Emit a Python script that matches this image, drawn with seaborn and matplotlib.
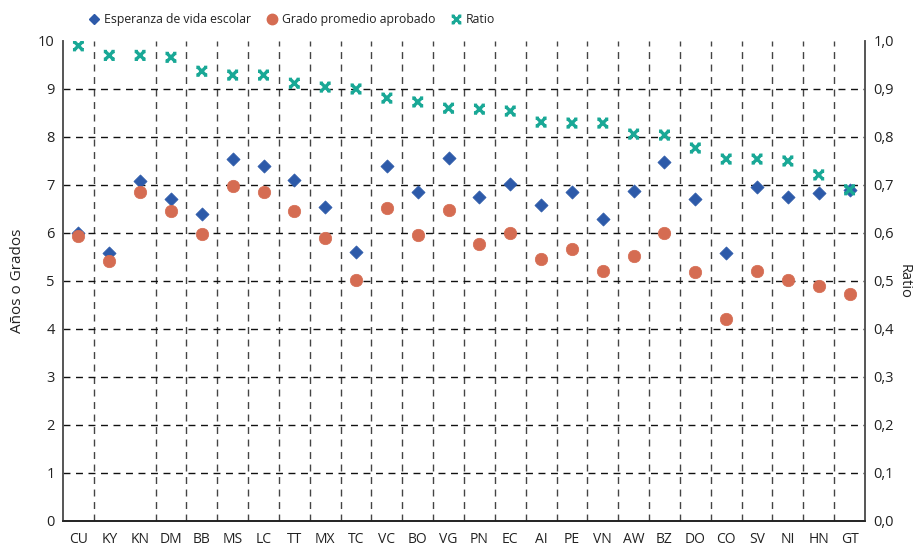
import numpy as np
import pandas as pd
import matplotlib
matplotlib.use("Agg")
import matplotlib.pyplot as plt
from matplotlib.path import Path
from matplotlib.markers import MarkerStyle
from matplotlib.lines import Line2D
from matplotlib.ticker import FuncFormatter
import seaborn as sns

paises = ["CU", "KY", "KN", "DM", "BB", "MS", "LC", "TT", "MX", "TC", "VC", "BO", "VG",
          "PN", "EC", "AI", "PE", "VN", "AW", "BZ", "DO", "CO", "SV", "NI", "HN", "GT"]
esperanza = [6.00, 5.58, 7.08, 6.70, 6.40, 7.54, 7.40, 7.10, 6.54, 5.60, 7.40, 6.85, 7.56,
             6.75, 7.02, 6.58, 6.85, 6.29, 6.88, 7.48, 6.71, 5.58, 6.96, 6.75, 6.84, 6.90]
grado = [5.94, 5.42, 6.85, 6.46, 5.98, 6.98, 6.85, 6.46, 5.90, 5.02, 6.52, 5.96, 6.48,
         5.77, 6.00, 5.46, 5.67, 5.21, 5.52, 6.00, 5.19, 4.21, 5.21, 5.02, 4.90, 4.73]
ratio = [0.99, 0.97, 0.97, 0.966, 0.937, 0.929, 0.929, 0.912, 0.904, 0.90, 0.881, 0.873, 0.86,
         0.858, 0.854, 0.831, 0.829, 0.829, 0.806, 0.804, 0.777, 0.754, 0.754, 0.75, 0.721, 0.69]

df = pd.DataFrame({"pais": paises, "esperanza": esperanza, "grado": grado, "ratio": ratio})
df["pos"] = np.arange(len(df))

C_BLUE = "#2D5AA9"
C_ORANGE = "#D56C52"
C_TEAL = "#19A896"

sns.set_style("white")
plt.rcParams["font.family"] = ["Open Sans", "DejaVu Sans"]

fig = plt.figure(figsize=(9.2, 5.46), dpi=100)
ax = fig.add_axes([63 / 920, 1 - 521 / 546, (865 - 63) / 920, (521 - 41) / 546])
ax2 = ax.twinx()

# custom "X" marker with small serifs at arm tips (unfilled)
xverts = [(-1, -1), (1, 1), (-1, 1), (1, -1)]
for tx, ty in [(-1, 1), (1, 1), (-1, -1), (1, -1)]:
    xverts += [(tx - 0.4, ty), (tx + 0.4, ty)]
xcodes = [Path.MOVETO, Path.LINETO] * 6
xmark = MarkerStyle(Path(xverts, xcodes), fillstyle="none")

sns.scatterplot(data=df, x="pos", y="esperanza", ax=ax, marker="D", s=45,
                color=C_BLUE, edgecolor=C_BLUE, linewidth=0.5, zorder=3, legend=False)
sns.scatterplot(data=df, x="pos", y="grado", ax=ax, marker="o", s=80,
                color=C_ORANGE, edgecolor=C_ORANGE, linewidth=0.5, zorder=3, legend=False)
sns.scatterplot(data=df, x="pos", y="ratio", ax=ax2, marker=xmark, s=62,
                color=C_TEAL, linewidth=2.4, zorder=3, legend=False)

n = len(paises)
ax.set_xlim(-0.5, n - 0.5)
ax.set_ylim(0, 10)
ax2.set_ylim(0, 1)

ax.set_xticks(df["pos"])
ax.set_xticklabels(paises, fontsize=10, color="#222222")
bounds = [b for b in (np.arange(n - 1) + 0.5) if abs(b - 1.5) > 1e-9]
ax.set_xticks(bounds, minor=True)
ax.set_yticks(range(0, 11))
ax.tick_params(axis="y", labelsize=10.5, colors="#222222", length=0, pad=6)
ax.tick_params(axis="x", which="both", length=0, pad=8)

ax2.set_yticks(np.arange(0, 1.01, 0.1))
ax2.yaxis.set_major_formatter(FuncFormatter(lambda v, p: f"{v:.1f}".replace(".", ",")))
ax2.tick_params(axis="y", labelsize=10.5, colors="#222222", length=0, pad=6)

ax.grid(False)
ax2.grid(False)
ax.grid(True, which="major", axis="y", linestyle=(0, (5, 4)), color="#111111", linewidth=1)
ax.grid(True, which="minor", axis="x", linestyle=(0, (5, 4)), color="#444444", linewidth=1)
ygl = ax.get_ygridlines()
ygl[-1].set_visible(False)
ygl[0].set_visible(False)

for a in (ax, ax2):
    a.spines["top"].set_visible(False)
    a.spines["left"].set_color("#555555")
    a.spines["right"].set_color("#555555")
    a.spines["bottom"].set_color("#222222")
    a.spines["left"].set_linewidth(1.2)
    a.spines["right"].set_linewidth(1.2)
    a.spines["bottom"].set_linewidth(1.2)

ax.set_xlabel("")
ax.set_ylabel("Años o Grados", fontsize=11, color="#222222", labelpad=9)
ax2.set_ylabel("Ratio", fontsize=10.5, color="#222222", rotation=270, labelpad=13)

handles = [
    Line2D([], [], marker="D", linestyle="none", color=C_BLUE, markersize=5.5),
    Line2D([], [], marker="o", linestyle="none", color=C_ORANGE, markersize=7.5),
    Line2D([], [], marker=xmark, linestyle="none", color=C_TEAL, markersize=7,
           markeredgewidth=2.2),
]
labels = ["Esperanza de vida escolar", "Grado promedio aprobado", "Ratio"]
leg = ax.legend(handles, labels, loc="center left", bbox_to_anchor=(0.024, 1.045),
                ncol=3, frameon=False, fontsize=8.8, handletextpad=0.2,
                columnspacing=1.1, handlelength=1.2, borderaxespad=0)
for t in leg.get_texts():
    t.set_color("#222222")

fig.savefig("out.png", dpi=100)
